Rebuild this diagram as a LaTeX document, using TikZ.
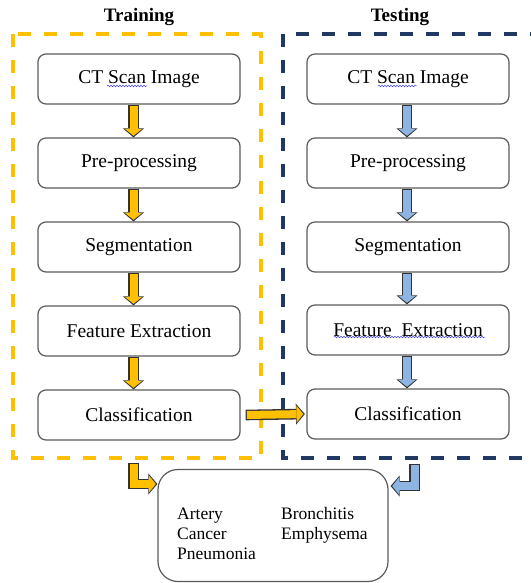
\documentclass[tikz,border=0pt]{standalone}
\usepackage{fontspec}
\setmainfont{Liberation Serif}
\usetikzlibrary{arrows.meta,decorations.pathmorphing}
\definecolor{DiagramYellow}{HTML}{FFC000}
\definecolor{DiagramNavy}{HTML}{1F3864}
\definecolor{DiagramSky}{HTML}{8EB4E3}
\definecolor{DiagramEdge}{HTML}{5A5A5A}
\tikzset{
  stage/.style={draw=DiagramEdge,line width=1.2pt,rounded corners=8pt,minimum width=202pt,minimum height=50pt,inner sep=0pt,font=\fontsize{19.5}{22}\selectfont},
  fatarrow/.style={line width=8pt,-{Triangle[width=17pt,length=6.8pt,line width=0pt]},shorten >=1.6pt,shorten <=1.3pt,line join=miter,
    preaction={draw=black!80,line width=10.6pt,-{Triangle[width=21pt,length=9pt,line width=0pt]},shorten >=0pt,shorten <=0pt}},
  ytrain/.style={fatarrow,draw=DiagramYellow},
  btest/.style={fatarrow,draw=DiagramSky},
  frame/.style={line width=3.5pt,dash pattern=on 13pt off 13pt},
  squig/.style={draw=blue!75,line width=0.5pt,decorate,decoration={snake,amplitude=0.8pt,segment length=3pt}},
}
\begin{document}
\begin{tikzpicture}[x=1pt,y=-1pt]
  \useasboundingbox (0,0) rectangle (530,583);
  \draw[frame,DiagramYellow] (13,34) rectangle (261,458);
  \draw[frame,DiagramNavy] (283,34) rectangle (535,458);
  \node[font=\bfseries\fontsize{19}{22}\selectfont] (trTitle) at (139,17) {Training};
  \node[font=\bfseries\fontsize{19}{22}\selectfont] (tsTitle) at (400,17) {Testing};

  \node[stage] (trCT) at (139,79) {CT Scan Image};
  \node[stage] (trPre) at (139,163) {Pre-processing};
  \node[stage] (trSeg) at (139,247) {Segmentation};
  \node[stage] (trFeat) at (139,331) {Feature Extraction};
  \node[stage] (trCls) at (139,415) {Classification};
  \node[stage] (tsCT) at (408,79) {CT Scan Image};
  \node[stage] (tsPre) at (408,163) {Pre-processing};
  \node[stage] (tsSeg) at (408,247) {Segmentation};
  \node[stage] (tsFeat) at (408,330) {Feature\ \ Extraction};
  \node[stage] (tsCls) at (408,414) {Classification};
  \draw[squig] ([shift={(-32,7)}]trCT.center) -- ++(40,0);
  \draw[squig] ([shift={(-30,7)}]tsCT.center) -- ++(39,0);
  \draw[squig] ([shift={(-74,7)}]tsFeat.center) -- ++(151,0);

  \foreach \a/\b in {trCT/trPre,trPre/trSeg,trSeg/trFeat,trFeat/trCls}
    \draw[ytrain] ([xshift=-5.5pt]\a.south) -- ([xshift=-5.5pt]\b.north);
  \foreach \a/\b in {tsCT/tsPre,tsPre/tsSeg,tsSeg/tsFeat,tsFeat/tsCls}
    \draw[btest] ([xshift=-1pt]\a.south) -- ([xshift=-1pt]\b.north);
  \draw[ytrain] ([xshift=5pt]trCls.east) -- ([xshift=-1.5pt]tsCls.west);

  \node[draw=DiagramEdge,line width=1.2pt,rounded corners=20pt,minimum width=230pt,minimum height=112pt] (result) at (273,525.5) {};
  \node[anchor=north west,inner sep=0pt,font=\fontsize{17.5}{20}\selectfont] (diseases) at (177,505)
    {\begin{tabular}{@{}p{104pt}@{}l@{}}Artery & Bronchitis\\ Cancer & Emphysema\\ Pneumonia & \end{tabular}};
  \coordinate (trExit) at (133.5,463);
  \coordinate (tsExit) at (414.5,464);
  \draw[ytrain] (trExit) |- ([yshift=41.5pt]result.west);
  \draw[btest] (tsExit) |- ([shift={(2,-39.5)}]result.east);
\end{tikzpicture}
\end{document}
